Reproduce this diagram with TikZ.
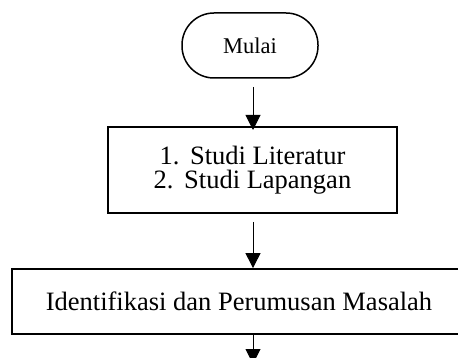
\documentclass[tikz,border=0pt]{standalone}
\usepackage{fontspec}
\setmainfont{Liberation Serif}
\usetikzlibrary{arrows.meta}
\begin{document}
\begin{tikzpicture}[x=1pt,y=-1pt,
  boxstyle/.style={draw, line width=1.8pt, rectangle, inner sep=0pt, font=\fontsize{26.5}{24.5}\selectfont, align=center},
  termstyle/.style={draw, line width=1.5pt, rounded corners=32pt, minimum width=136pt, minimum height=65pt, inner sep=0pt, font=\fontsize{22.5}{24}\selectfont},
  arr/.style={line width=1pt, -{Triangle[length=15pt,width=15pt]}}]
\useasboundingbox (0,0) rectangle (458,358);
\clip (0,0) rectangle (458,358);
\node[termstyle] (start) at (250,45.5) {Mulai};
\node[boxstyle, minimum width=289pt, minimum height=86pt] (study) at (252.5,170) {1.\hspace{0.4em}Studi Literatur\\2.\hspace{0.4em}Studi Lapangan};
\node[boxstyle, minimum width=454pt, minimum height=65pt] (ident) at (239,301.5) {Identifikasi dan Perumusan Masalah};
\coordinate (a1) at (253,87);
\coordinate (a1e) at (253,130);
\coordinate (a2) at (253,222);
\coordinate (a3e) at (253,364);
\draw[arr] (a1) -- (a1e);
\draw[arr] (a2) -- (a2 |- ident.north);
\draw[arr] (a2 |- ident.south) -- (a3e);
\end{tikzpicture}
\end{document}
